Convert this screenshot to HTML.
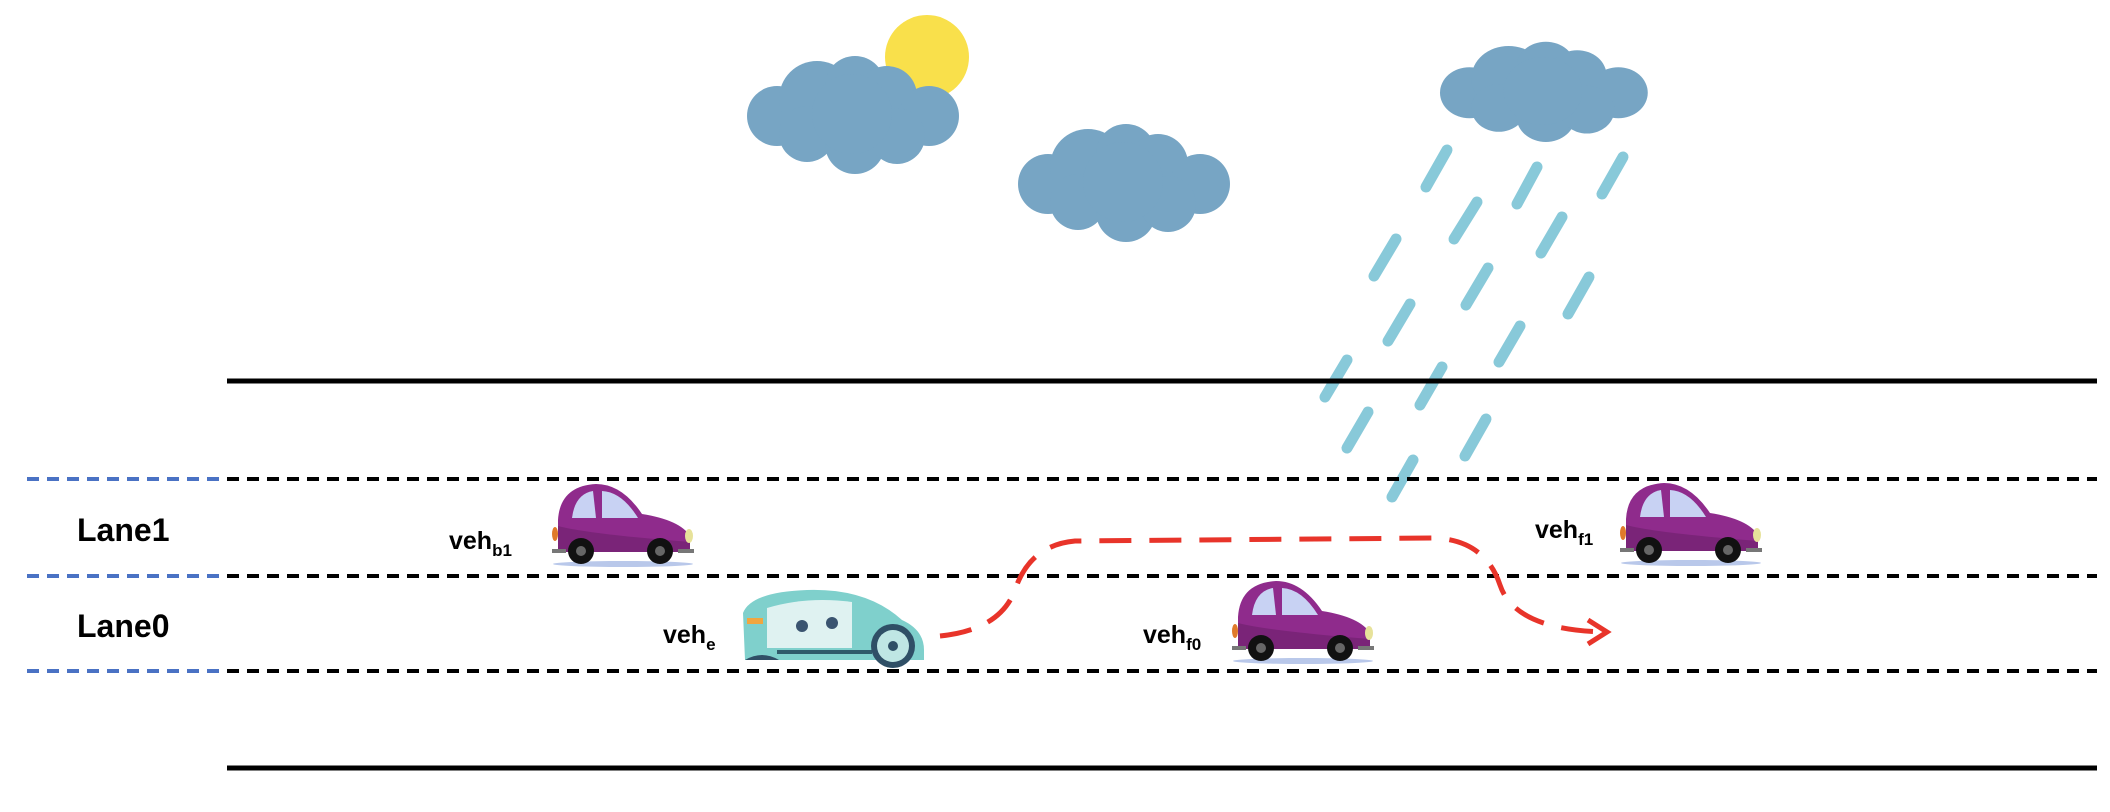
<!DOCTYPE html>
<html><head><meta charset="utf-8"><style>
html,body{margin:0;padding:0;background:#fff;}
svg{display:block;}
text{font-family:"Liberation Sans",sans-serif;font-weight:bold;fill:#000;}
</style></head><body>
<svg width="2110" height="812" viewBox="0 0 2110 812">
<defs>
<g id="car">
<ellipse cx="75" cy="80" rx="70" ry="3" fill="#b9c8ea"/>
<path d="M10,68 L10,36 Q12,2 48,0 Q74,0 94,30 Q132,36 142,52 L142,68 Z" fill="#8f2b8c"/>
<path d="M10,68 L10,42 Q40,50 142,58 L142,68 Z" fill="#7a2478"/>
<path d="M24,34 Q27,10 45,7 L48,34 Z" fill="#c8d2f3"/>
<path d="M54,7 Q74,8 90,34 L54,34 Z" fill="#c8d2f3"/>
<ellipse cx="141" cy="52" rx="4" ry="7" fill="#e7e29a"/>
<ellipse cx="7" cy="50" rx="3" ry="7" fill="#e07a2a"/>
<rect x="4" y="65" width="14" height="4" fill="#777"/>
<rect x="130" y="65" width="16" height="4" fill="#777"/>
<circle cx="33" cy="67" r="13" fill="#111"/><circle cx="33" cy="67" r="5" fill="#666"/>
<circle cx="112" cy="67" r="13" fill="#111"/><circle cx="112" cy="67" r="5" fill="#666"/>
</g>
<g id="cloud">
<circle cx="30" cy="62" r="30"/><circle cx="70" cy="45" r="38"/><circle cx="108" cy="32" r="30"/>
<circle cx="140" cy="42" r="30"/><circle cx="182" cy="62" r="30"/><circle cx="60" cy="80" r="28"/>
<circle cx="108" cy="90" r="30"/><circle cx="150" cy="82" r="28"/><circle cx="105" cy="60" r="40"/>
</g>
</defs>

<circle cx="927" cy="57" r="42" fill="#f9e04b"/>
<g fill="#77a5c4" transform="translate(747,54)"><use href="#cloud"/></g>
<g fill="#77a5c4" transform="translate(1018,122)"><use href="#cloud"/></g>
<g fill="#77a5c4" transform="translate(1440,40) scale(0.98,0.85)"><use href="#cloud"/></g>

<g stroke="#88c9d9" stroke-width="11" stroke-linecap="round">
<line x1="1447" y1="150" x2="1426" y2="187"/><line x1="1537" y1="167" x2="1517" y2="204"/>
<line x1="1623" y1="157" x2="1602" y2="194"/><line x1="1477" y1="202" x2="1454" y2="239"/>
<line x1="1562" y1="217" x2="1541" y2="253"/><line x1="1396" y1="239" x2="1374" y2="276"/>
<line x1="1488" y1="268" x2="1466" y2="305"/><line x1="1589" y1="277" x2="1568" y2="314"/>
<line x1="1410" y1="304" x2="1388" y2="341"/><line x1="1520" y1="326" x2="1499" y2="362"/>
<line x1="1347" y1="360" x2="1325" y2="397"/><line x1="1442" y1="367" x2="1420" y2="405"/>
<line x1="1368" y1="412" x2="1347" y2="448"/><line x1="1486" y1="419" x2="1465" y2="456"/>
<line x1="1413" y1="460" x2="1392" y2="497"/>
</g>

<line x1="227" y1="381" x2="2097" y2="381" stroke="#000" stroke-width="5"/>
<line x1="227" y1="768" x2="2097" y2="768" stroke="#000" stroke-width="5"/>
<g stroke-width="4" stroke-dasharray="12 8">
<line x1="227" y1="479" x2="2097" y2="479" stroke="#000"/>
<line x1="227" y1="576" x2="2097" y2="576" stroke="#000"/>
<line x1="227" y1="671" x2="2097" y2="671" stroke="#000"/>
<line x1="27" y1="479" x2="225" y2="479" stroke="#4a72c4"/>
<line x1="27" y1="576" x2="225" y2="576" stroke="#4a72c4"/>
<line x1="27" y1="671" x2="225" y2="671" stroke="#4a72c4"/>
</g>

<text x="77" y="541" font-size="32">Lane1</text>
<text x="77" y="637" font-size="32">Lane0</text>

<path d="M940,636 Q1000,630 1015,590 Q1030,545 1075,541 L1434,538 Q1485,540 1500,585 Q1515,630 1605,632" fill="none" stroke="#e8342a" stroke-width="5" stroke-dasharray="32 18"/>
<path d="M1588,620 L1607,632 L1588,644" fill="none" stroke="#e8342a" stroke-width="5"/>

<g transform="translate(548,484)"><use href="#car"/></g>
<g transform="translate(1228,581)"><use href="#car"/></g>
<g transform="translate(1616,483)"><use href="#car"/></g>

<g transform="translate(737,588)">
<path d="M8,72 L6,25 Q14,4 70,2 Q130,0 165,32 Q187,42 187,62 L187,72 Z" fill="#7fd0cc"/>
<path d="M30,20 Q70,8 115,14 L115,60 L30,60 Z" fill="#dff2f1"/>
<rect x="10" y="30" width="16" height="6" fill="#f0a640"/>
<rect x="40" y="62" width="95" height="4" fill="#2f5a6a"/>
<circle cx="65" cy="38" r="6" fill="#3a5470"/><circle cx="95" cy="35" r="6" fill="#3a5470"/>
<circle cx="156" cy="58" r="22" fill="#2f4f66"/><circle cx="156" cy="58" r="16" fill="#bfe6e4"/><circle cx="156" cy="58" r="5" fill="#2f4f66"/>
<path d="M8,72 Q25,62 42,72 Z" fill="#2f4f66"/>
</g>

<text x="449" y="549" font-size="25">veh<tspan font-size="17" dy="7">b1</tspan></text>
<text x="663" y="643" font-size="25">veh<tspan font-size="17" dy="7">e</tspan></text>
<text x="1143" y="643" font-size="25">veh<tspan font-size="17" dy="7">f0</tspan></text>
<text x="1535" y="538" font-size="25">veh<tspan font-size="17" dy="7">f1</tspan></text>
</svg>
</body></html>
